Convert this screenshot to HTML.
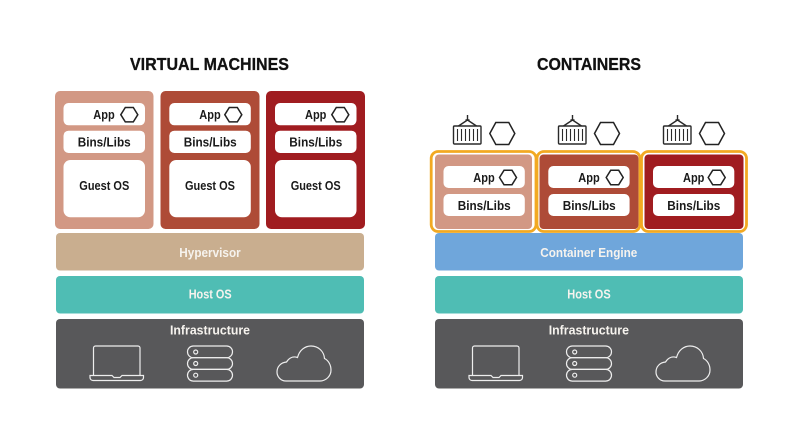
<!DOCTYPE html>
<html><head><meta charset="utf-8"><style>
html,body{margin:0;padding:0;background:#fff}
svg{display:block}
text{font-family:"Liberation Sans",sans-serif;font-weight:bold}
.k{fill:#1a1a1a;font-size:13px}
.w{fill:#f6f3ee;font-size:13px}
.t{fill:#111;font-size:17.500px;stroke:#111;stroke-width:.3}
.i{fill:none;stroke:#eee;stroke-width:1.200}
.h{fill:none;stroke:#222;stroke-width:1.500}
</style></head><body>
<svg width="797" height="446" viewBox="0 0 797 446" xmlns="http://www.w3.org/2000/svg">
<defs>
<g id="hexs"><polygon points="-8.500,0 -4,-7.200 4,-7.200 8.500,0 4,7.200 -4,7.200" class="h"/></g>
<g id="hexb"><polygon points="-12.500,0 -6.500,-11 6.500,-11 12.500,0 6.500,11 -6.500,11" class="h"/></g>
<g id="cont" fill="none" stroke="#2a2a2a" stroke-width="1.400">
<rect x="0" y="11" width="27.500" height="18" rx="1"/>
<path d="M4 14V26M8 14V26M12 14V26M16 14V26M20 14V26M24 14V26" stroke-width="1.100"/>
<path d="M14 0V5M14 5L5 11M14 5L23 11M12 5H16" />
</g>
<g id="infra">
<path d="M93.500 375V348a2 2 0 0 1 2-2H138a2 2 0 0 1 2 2V375" class="i"/>
<path d="M90 375.500H112l2 2h6l2-2H143.500v2a3 3 0 0 1-3 3H93a3 3 0 0 1-3-3z" class="i"/>
<rect x="187.500" y="346" width="45" height="11.700" rx="5.800" class="i"/>
<rect x="187.500" y="357.700" width="45" height="11.700" rx="5.800" class="i"/>
<rect x="187.500" y="369.400" width="45" height="11.700" rx="5.800" class="i"/>
<circle cx="195.700" cy="352" r="2" class="i"/>
<circle cx="195.700" cy="363.500" r="2" class="i"/>
<circle cx="195.700" cy="375.200" r="2" class="i"/>
<path d="M286 381C280.500 381 277 376.500 277 372C277 366.500 281 362.500 286.500 362C289 358 293 356 297.500 357.500C299.500 350 305 346 311 346C318.500 346 324 351.500 324.500 358.500C328.500 360.500 331 365 331 370C331 376 326 381 320 381Z" class="i"/>
</g>
</defs>
<rect width="797" height="446" fill="#fff"/>

<text x="130" y="70" class="t" textLength="159" lengthAdjust="spacingAndGlyphs">VIRTUAL MACHINES</text>
<text x="537" y="70" class="t" textLength="104" lengthAdjust="spacingAndGlyphs">CONTAINERS</text>

<!-- VM columns -->
<rect x="55" y="91" width="98.500" height="138" rx="5" fill="#d29884"/>
<rect x="160.500" y="91" width="99" height="138" rx="5" fill="#ae4b37"/>
<rect x="266" y="91" width="99" height="138" rx="5" fill="#a01c20"/>

<g fill="#fff">
<rect x="63.500" y="103" width="81.500" height="22.300" rx="5"/>
<rect x="63.500" y="130.700" width="81.500" height="22.300" rx="5"/>
<rect x="63.500" y="160" width="81.500" height="57.300" rx="7"/>
<rect x="169.300" y="103" width="81.500" height="22.300" rx="5"/>
<rect x="169.300" y="130.700" width="81.500" height="22.300" rx="5"/>
<rect x="169.300" y="160" width="81.500" height="57.300" rx="7"/>
<rect x="275" y="103" width="81.500" height="22.300" rx="5"/>
<rect x="275" y="130.700" width="81.500" height="22.300" rx="5"/>
<rect x="275" y="160" width="81.500" height="57.300" rx="7"/>
</g>

<text x="93.300" y="119" class="k" textLength="21.400" lengthAdjust="spacingAndGlyphs">App</text>
<text x="199.300" y="119" class="k" textLength="21.400" lengthAdjust="spacingAndGlyphs">App</text>
<text x="305" y="119" class="k" textLength="21.400" lengthAdjust="spacingAndGlyphs">App</text>
<use href="#hexs" x="129.300" y="114.700"/>
<use href="#hexs" x="233.300" y="114.700"/>
<use href="#hexs" x="340.300" y="114.700"/>
<text x="77.700" y="146.700" class="k" textLength="53" lengthAdjust="spacingAndGlyphs">Bins/Libs</text>
<text x="183.700" y="146.700" class="k" textLength="53" lengthAdjust="spacingAndGlyphs">Bins/Libs</text>
<text x="289.300" y="146.700" class="k" textLength="53" lengthAdjust="spacingAndGlyphs">Bins/Libs</text>
<text x="79.300" y="190" class="k" textLength="50" lengthAdjust="spacingAndGlyphs">Guest OS</text>
<text x="185" y="190" class="k" textLength="50" lengthAdjust="spacingAndGlyphs">Guest OS</text>
<text x="290.700" y="190" class="k" textLength="50" lengthAdjust="spacingAndGlyphs">Guest OS</text>

<!-- left layers -->
<rect x="56" y="233" width="308" height="37.500" rx="4" fill="#c9ae8f"/>
<rect x="56" y="276" width="308" height="37.500" rx="4" fill="#4fbdb4"/>
<rect x="56" y="319" width="308" height="69.500" rx="4" fill="#58585a"/>
<text x="179.300" y="257" class="w" textLength="61.400" lengthAdjust="spacingAndGlyphs">Hypervisor</text>
<text x="188.700" y="298.500" class="w" textLength="43" lengthAdjust="spacingAndGlyphs">Host OS</text>
<text x="170" y="334.500" class="w" textLength="80" lengthAdjust="spacingAndGlyphs">Infrastructure</text>
<use href="#infra"/>

<!-- right layers -->
<rect x="435" y="233" width="308" height="37.500" rx="4" fill="#6fa6db"/>
<rect x="435" y="276" width="308" height="37.500" rx="4" fill="#4fbdb4"/>
<rect x="435" y="319" width="308" height="69.500" rx="4" fill="#58585a"/>
<text x="540.300" y="257" class="w" textLength="97" lengthAdjust="spacingAndGlyphs">Container Engine</text>
<text x="567.300" y="298.500" class="w" textLength="43.400" lengthAdjust="spacingAndGlyphs">Host OS</text>
<text x="548.700" y="334.500" class="w" textLength="80.300" lengthAdjust="spacingAndGlyphs">Infrastructure</text>
<use href="#infra" x="379"/>

<!-- container boxes -->
<rect x="431.200" y="151.500" width="104.800" height="80" rx="7" fill="#fff" stroke="#f2a922" stroke-width="2.800"/>
<rect x="537" y="151.500" width="103" height="80" rx="7" fill="#fff" stroke="#f2a922" stroke-width="2.800"/>
<rect x="641.500" y="151.500" width="105" height="80" rx="7" fill="#fff" stroke="#f2a922" stroke-width="2.800"/>
<rect x="435" y="154.500" width="97" height="74.500" rx="4" fill="#d29884"/>
<rect x="539.500" y="154.500" width="99" height="74.500" rx="4" fill="#ae4b37"/>
<rect x="644.500" y="154.500" width="99" height="74.500" rx="4" fill="#a01c20"/>
<g fill="#fff">
<rect x="443.500" y="166" width="81.300" height="22" rx="5"/>
<rect x="443.500" y="194" width="81.300" height="22" rx="5"/>
<rect x="548.300" y="166" width="81.300" height="22" rx="5"/>
<rect x="548.300" y="194" width="81.300" height="22" rx="5"/>
<rect x="653" y="166" width="81.300" height="22" rx="5"/>
<rect x="653" y="194" width="81.300" height="22" rx="5"/>
</g>
<text x="473.300" y="182" class="k" textLength="21.400" lengthAdjust="spacingAndGlyphs">App</text>
<text x="578.300" y="182" class="k" textLength="21.400" lengthAdjust="spacingAndGlyphs">App</text>
<text x="683" y="182" class="k" textLength="21.400" lengthAdjust="spacingAndGlyphs">App</text>
<use href="#hexs" x="508" y="177.500"/>
<use href="#hexs" x="614.700" y="177.500"/>
<use href="#hexs" x="716.700" y="177.500"/>
<text x="457.700" y="210" class="k" textLength="53" lengthAdjust="spacingAndGlyphs">Bins/Libs</text>
<text x="562.700" y="210" class="k" textLength="53" lengthAdjust="spacingAndGlyphs">Bins/Libs</text>
<text x="667.300" y="210" class="k" textLength="53" lengthAdjust="spacingAndGlyphs">Bins/Libs</text>

<!-- container icons -->
<use href="#cont" x="453.500" y="115"/>
<use href="#cont" x="558.500" y="115"/>
<use href="#cont" x="663.500" y="115"/>
<use href="#hexb" x="502.300" y="133.500"/>
<use href="#hexb" x="607" y="133.500"/>
<use href="#hexb" x="712" y="133.500"/>
</svg>
</body></html>
